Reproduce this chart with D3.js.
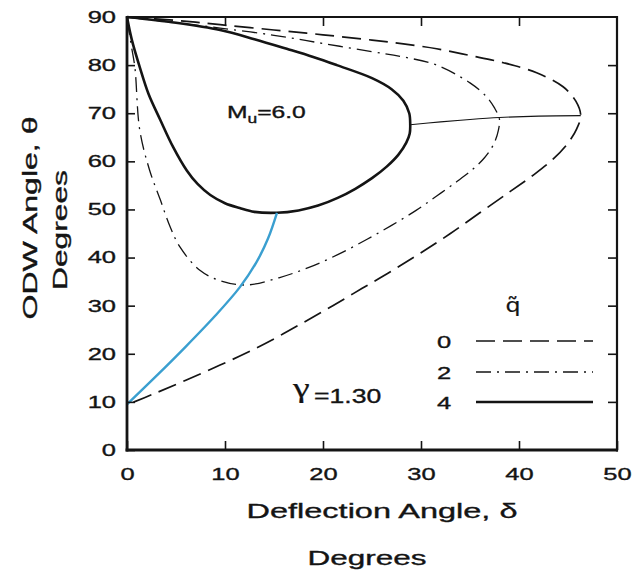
<!DOCTYPE html>
<html><head><meta charset="utf-8">
<script src="https://cdn.jsdelivr.net/npm/d3@7"></script>
<style>body{margin:0;background:#fff}</style>
</head><body>
<svg id="c" width="636" height="573"></svg>
<script>
// ---------- data ----------
const xTicks = [0, 10, 20, 30, 40, 50];
const yTicks = [0, 10, 20, 30, 40, 50, 60, 70, 80, 90];
// q~ = 0 (dashed), [deflection δ, ODW angle θ]
const q0 = [[0,90],[5,89.3],[9.5,88.4],[15,87.3],[20,86.3],[25,85.2],[28.2,84.4],[31.6,83.4],[35,82],[38.4,80.5],[41.8,78.4],[44.5,75.5],[45.8,72.5],[46.3,69.5],[45.9,66.8],[45,63.8],[43.5,60.5],[41.5,57.2],[39,53.6],[36,49.3],[33,45],[30,41],[27,37.2],[24,33.6],[21,30],[18,26.5],[15,23.1],[12,20],[9,17.2],[6,14.5],[3,11.9],[0,9.4]];
// q~ = 2 (dash-dot)
const q2 = [[0,90],[5,88.8],[9.5,87.7],[15,86.2],[20,84.5],[25,82.8],[28.2,81.7],[31.6,80],[35,76.3],[36.7,73.4],[37.5,71.1],[38,68.8],[37.9,66.5],[37.4,63.5],[36.5,60.8],[35.2,58.2],[33.6,55.7],[31.6,52.8],[29.5,49.8],[27,46.7],[24.5,43.8],[21.5,40.6],[18.5,37.9],[15.5,35.8],[12.2,34.3],[9.5,35.2],[7.4,37.4],[5.4,42.2],[4.4,46.4],[3.4,52],[2.3,58.2],[1.3,66.5],[0.8,79.6],[0.4,84.5],[0,90]];
// q~ = 4 (solid)
const q4 = [[0,90],[5,88.8],[9.5,87.3],[13,85.4],[16.3,83.4],[19,81.7],[21.4,80],[25,77.3],[27,75],[28.2,72.6],[28.8,70],[28.9,67.6],[28.85,65.8],[28.5,63.9],[27.7,61.4],[26.5,58.9],[25,56.5],[23.3,54.3],[21.5,52.4],[19.5,50.8],[17.5,49.8],[15.3,49.3],[13,49.5],[11.5,50.3],[10,51.3],[8.5,53],[7.2,55.3],[6.1,58.1],[4.7,63],[3.4,68.6],[2.2,74],[1.3,79.6],[0.5,85.2],[0,90]];
// connector between the q~=4 and q~=0 tips
const tipLine = [[28.9,67.6],[32,68.2],[35,68.7],[38,69.1],[42,69.4],[46.3,69.5]];
// blue curve
const minLocus = [[0,9.5],[3,15.4],[6,21.5],[9,27.9],[11.5,33.8],[13.2,39],[14.4,44],[15.3,49.3]];
const legendLabels = ["0", "2", "4"];

// ---------- styles ----------
const ink = "#141414";
const styles = {
  "0": {w: 1.7, dash: "19,8"},
  "2": {w: 1.3, dash: "15,6,2,6"},
  "4": {w: 2.6, dash: null}
};
const FONT = "'Liberation Sans', Arial, Helvetica, sans-serif";

const svg = d3.select("#c");
const x = d3.scaleLinear().domain([0, 50]).range([127, 617]);
const y = d3.scaleLinear().domain([0, 90]).range([450, 17]);
const line = d3.line().x(d => x(d[0])).y(d => y(d[1])).curve(d3.curveCatmullRom.alpha(0.5));

// ---------- curves ----------
const series = [["0", q0], ["2", q2], ["4", q4]];
series.forEach(([k, data]) => {
  svg.append("path").attr("d", line(data)).attr("fill", "none")
    .attr("stroke", ink).attr("stroke-width", styles[k].w)
    .attr("stroke-dasharray", styles[k].dash).attr("stroke-linejoin", "round");
});
svg.append("path").attr("d", line(tipLine)).attr("fill", "none")
  .attr("stroke", ink).attr("stroke-width", 1.1);
svg.append("path").attr("d", line(minLocus)).attr("fill", "none")
  .attr("stroke", "#3a9fd0").attr("stroke-width", 2.4);

// ---------- axes (inward ticks) ----------
const SX = 1.5; // wide face
const gL = svg.append("g").attr("transform", `translate(${x(0)},0)`)
  .call(d3.axisLeft(y).tickValues(yTicks).tickSize(-8).tickPadding(11).tickFormat(d3.format("d")));
const gB = svg.append("g").attr("transform", `translate(0,${y(0)})`)
  .call(d3.axisBottom(x).tickValues(xTicks).tickSize(-9).tickPadding(18).tickFormat(d3.format("d")));
const gT = svg.append("g").attr("transform", `translate(0,${y(90)})`)
  .call(d3.axisTop(x).tickValues(xTicks.slice(1, -1)).tickSize(-9).tickFormat(""));
const gR = svg.append("g").attr("transform", `translate(${x(50)},0)`)
  .call(d3.axisRight(y).tickValues(yTicks.slice(1, -1)).tickSize(-9).tickFormat(""));
[gL, gB, gT, gR].forEach(g => {
  g.select(".domain").remove();
  g.selectAll(".tick line").attr("stroke", ink).attr("stroke-width", 1.6);
  g.selectAll("text").attr("font-family", FONT).attr("font-size", 17)
    .attr("fill", ink).attr("stroke", ink).attr("stroke-width", 0.35);
});
gL.selectAll(".tick text").attr("x", -11 / SX).attr("transform", `scale(${SX},1)`);
gB.selectAll(".tick text").attr("transform", `scale(${SX},1)`);

// frame
svg.append("line").attr("x1", x(0)).attr("x2", x(0)).attr("y1", y(90) - 1).attr("y2", y(0) + 1.5).attr("stroke", ink).attr("stroke-width", 2.8);
svg.append("line").attr("x1", x(0) - 1.4).attr("x2", x(50) + 1).attr("y1", y(0)).attr("y2", y(0)).attr("stroke", ink).attr("stroke-width", 2.8);
svg.append("line").attr("x1", x(0)).attr("x2", x(50) + 1).attr("y1", y(90)).attr("y2", y(90)).attr("stroke", ink).attr("stroke-width", 2.2);
svg.append("line").attr("x1", x(50)).attr("x2", x(50)).attr("y1", y(90) - 1).attr("y2", y(0) + 1.4).attr("stroke", ink).attr("stroke-width", 2.2);

// ---------- text helpers ----------
function txt(str, px, py, size, opts = {}) {
  const t = svg.append("text").attr("font-family", opts.font || FONT).attr("font-size", size)
    .attr("fill", ink).attr("stroke", ink).attr("stroke-width", opts.sw ?? 0.35)
    .attr("text-anchor", opts.anchor || "start")
    .attr("transform", `translate(${px},${py})` + (opts.rot ? ` rotate(${opts.rot})` : "") + (opts.sx ? ` scale(${opts.sx},1)` : ""))
    .text(str);
  if (opts.len) t.attr("textLength", opts.len).attr("lengthAdjust", "spacingAndGlyphs");
  return t;
}

// axis titles
txt("Deflection Angle, \u03b4", 382, 518, 21, {anchor: "middle", len: 271});
txt("Degrees", 367, 565, 21, {anchor: "middle", len: 119});
txt("ODW Angle, \u03b8", 37, 218, 21, {anchor: "middle", len: 203, rot: -90});
txt("Degrees", 67, 230, 21, {anchor: "middle", len: 120, rot: -90});

// M_u = 6.0
const mu = svg.append("text").attr("font-family", FONT).attr("font-size", 17)
  .attr("fill", ink).attr("stroke", ink).attr("stroke-width", 0.35)
  .attr("transform", "translate(227,118) scale(1.45,1)");
mu.append("tspan").text("M");
mu.append("tspan").attr("dy", 5).attr("font-size", 12).text("u");
mu.append("tspan").attr("dy", -5).text("=6.0");

// gamma
txt("\u03b3", 293, 397, 28, {font: "'Liberation Serif', 'DejaVu Serif', serif", sx: 1.35, sw: 0.2});
txt("=1.30", 314, 403, 20, {sx: 1.33});

// ---------- legend ----------
txt("q\u0303", 513, 312, 19, {anchor: "middle", sx: 1.25, font: "'DejaVu Sans', sans-serif", sw: 0.2});
const legY = [341, 372, 402];
legendLabels.forEach((lab, i) => {
  txt(lab, 444, legY[i] + 7, 17, {anchor: "middle", sx: SX});
  svg.append("line").attr("x1", 476).attr("x2", 593).attr("y1", legY[i]).attr("y2", legY[i])
    .attr("stroke", ink).attr("stroke-width", styles[lab].w)
    .attr("stroke-dasharray", styles[lab].dash);
});
</script>
</body></html>
